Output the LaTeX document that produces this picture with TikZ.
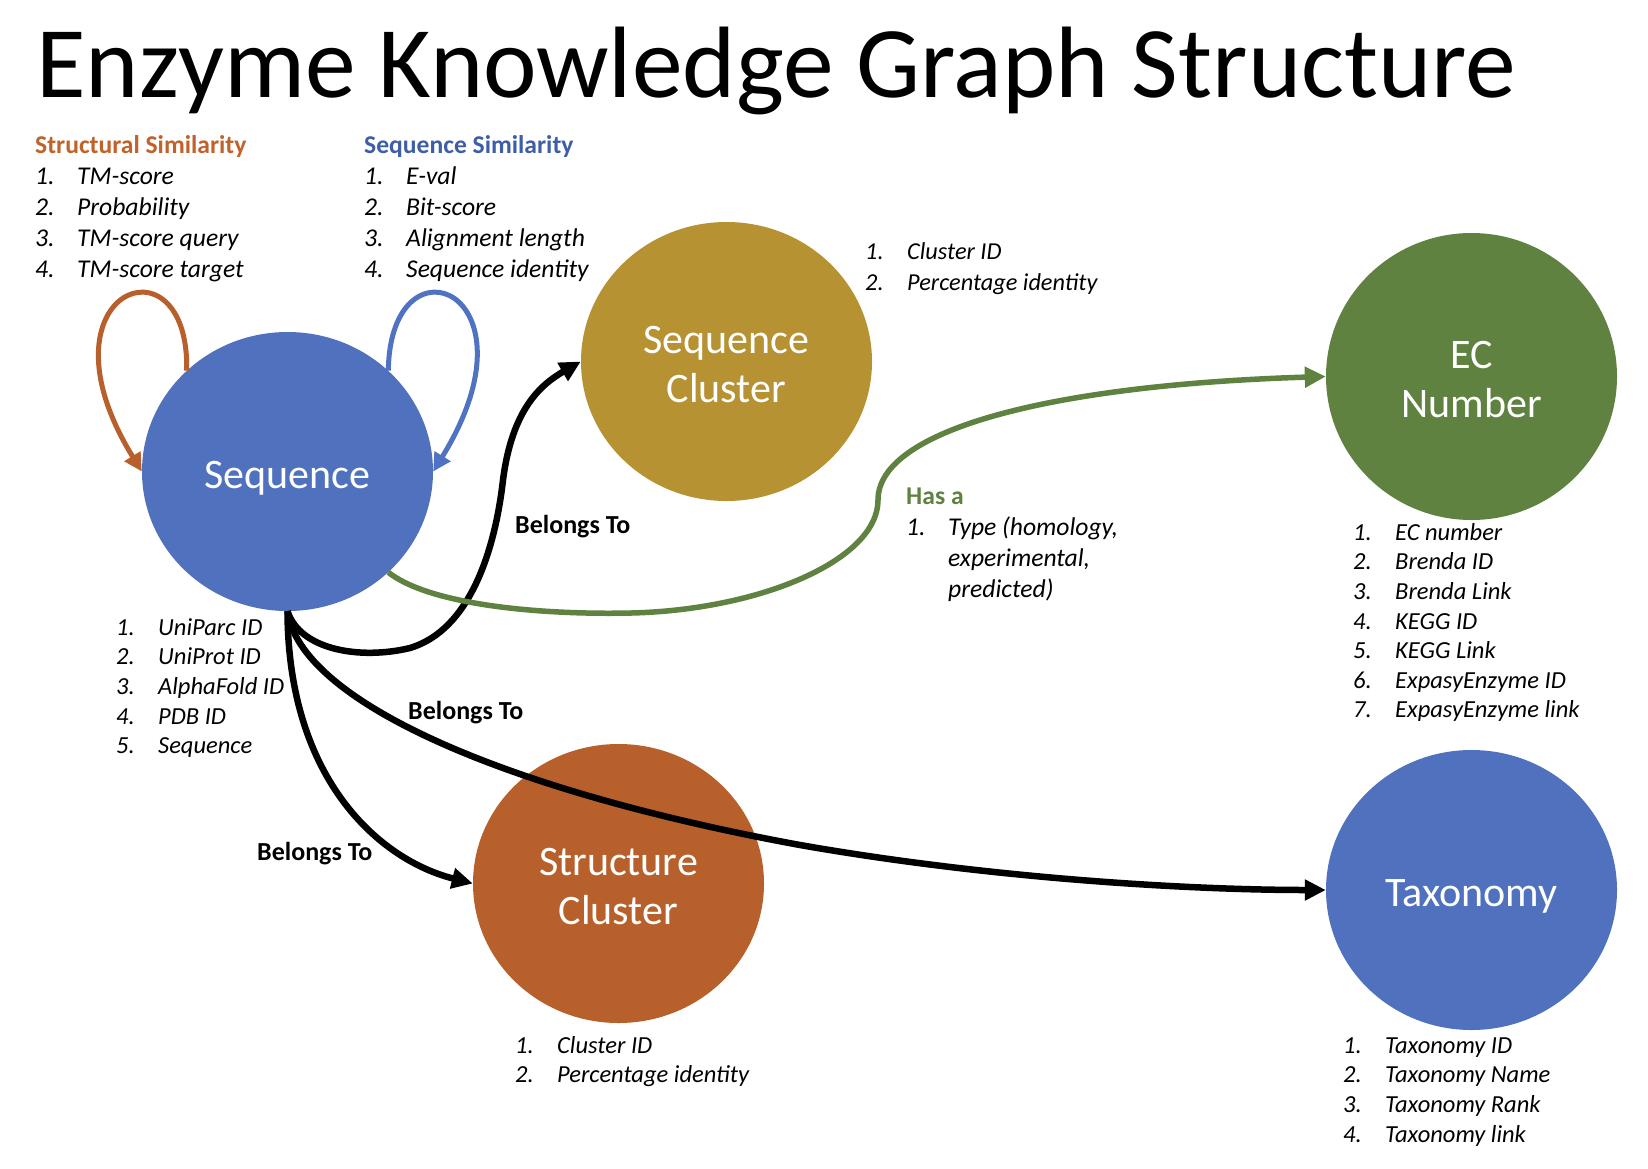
\documentclass[tikz,border=0pt]{standalone}
\usepackage{fontspec}
\setmainfont{Carlito}
\usetikzlibrary{arrows.meta, positioning, shapes.geometric}

\definecolor{seqblue}{HTML}{5071BE}
\definecolor{loopblue}{HTML}{4F72C2}
\definecolor{headblue}{HTML}{3F5EA8}
\definecolor{clustergold}{HTML}{B79233}
\definecolor{ecgreen}{HTML}{5F8240}
\definecolor{strorange}{HTML}{B8602C}
\definecolor{headorange}{HTML}{C0622A}

\newcommand{\itm}[2]{\makebox[42pt][l]{#1}#2}

\begin{document}
\begin{tikzpicture}[x=1pt, y=-1pt, every node/.style={align=center},
    entity/.style={ellipse, minimum width=291pt, minimum height=279pt, inner sep=0pt,
        text=white, font=\fontsize{42}{49}\selectfont},
    attrs/.style={anchor=north west, inner sep=0pt, align=left,
        font=\fontsize{25.6}{31}\selectfont\itshape},
    smallattrs/.style={attrs, font=\fontsize{24.5}{29.6}\selectfont\itshape},
    relation/.style={line width=6.5pt, -{Triangle[length=21pt, width=20pt]}},
    selfloop/.style={line width=5pt, -{Triangle[length=18pt, width=18pt]}},
    rellabel/.style={anchor=west, inner sep=0pt, font=\fontsize{26}{31}\selectfont\bfseries}]
    \fill[white] (0,0) rectangle (1648,1168);
    \useasboundingbox (0,0) rectangle (1648,1168);

    \node[anchor=base west, inner sep=0pt, font=\fontsize{101.5}{120}\selectfont] (title) at (36,97)
    {Enzyme Knowledge Graph Structure};

    \node[entity, fill=seqblue] (seq) at (287.5,471.5) {\rule{0pt}{40pt}Sequence};
    \node[entity, fill=clustergold] (seqcl) at (726.5,361.5) {\rule{0pt}{34pt}Sequence\\ Cluster};
    \node[entity, fill=ecgreen, minimum height=287pt] (ec) at (1471.5,376.5) {\rule{0pt}{33.5pt}EC\\ Number};
    \node[entity, fill=strorange] (strcl) at (618.5,883.5) {\rule{0pt}{34pt}Structure\\ Cluster};
    \node[entity, fill=seqblue, minimum height=280pt] (tax) at (1471.5,890) {\rule{0pt}{40pt}Taxonomy};

    % attribute lists
    \node[attrs] (strsim) at (35,131.8) {\begin{tabular}{@{}l@{}}
        {\upshape\bfseries\color{headorange}Structural Similarity}\\
        \itm{1.}{TM-score}\\ \itm{2.}{Probability}\\
        \itm{3.}{TM-score query}\\ \itm{4.}{TM-score target}
    \end{tabular}};
    \node[attrs] (seqsim) at (364,131.8) {\begin{tabular}{@{}l@{}}
        {\upshape\bfseries\color{headblue}Sequence Similarity}\\
        \itm{1.}{E-val}\\ \itm{2.}{Bit-score}\\
        \itm{3.}{Alignment length}\\ \itm{4.}{Sequence identity}
    \end{tabular}};
    \node[attrs, font=\fontsize{24.3}{30.5}\selectfont\itshape] (seqcllist) at (865,238) {\begin{tabular}{@{}l@{}}
        \itm{1.}{Cluster ID}\\ \itm{2.}{Percentage identity}
    \end{tabular}};
    \node[attrs] (hasa) at (906,482.8) {\begin{tabular}{@{}l@{}}
        {\upshape\bfseries\color{ecgreen}Has a}\\
        \itm{1.}{Type (homology,}\\ \itm{}{experimental,}\\ \itm{}{predicted)}
    \end{tabular}};
    \node[smallattrs] (eclist) at (1353,519.3) {\begin{tabular}{@{}l@{}}
        \itm{1.}{EC number}\\ \itm{2.}{Brenda ID}\\ \itm{3.}{Brenda Link}\\
        \itm{4.}{KEGG ID}\\ \itm{5.}{KEGG Link}\\ \itm{6.}{ExpasyEnzyme ID}\\
        \itm{7.}{ExpasyEnzyme link}
    \end{tabular}};
    \node[smallattrs] (taxlist) at (1343,1032.3) {\begin{tabular}{@{}l@{}}
        \itm{1.}{Taxonomy ID}\\ \itm{2.}{Taxonomy Name}\\
        \itm{3.}{Taxonomy Rank}\\ \itm{4.}{Taxonomy link}
    \end{tabular}};
    \node[smallattrs] (seqlist) at (116,614.3) {\begin{tabular}{@{}l@{}}
        \itm{1.}{UniParc ID}\\ \itm{2.}{UniProt ID}\\ \itm{3.}{AlphaFold ID}\\
        \itm{4.}{PDB ID}\\ \itm{5.}{Sequence}
    \end{tabular}};
    \node[smallattrs] (strcllist) at (515,1032.3) {\begin{tabular}{@{}l@{}}
        \itm{1.}{Cluster ID}\\ \itm{2.}{Percentage identity}
    \end{tabular}};

    % self loops
    \draw[selfloop, strorange] (seq.135) .. controls (190,230) and (30,290) .. (seq.west);
    \draw[selfloop, loopblue] (seq.45) .. controls (390,230) and (545,290) .. (seq.east);

    % relations
    \draw[relation] (seq.south) .. controls (300,650) and (360,660) .. (410,648)
    .. controls (470,630) and (495,550) .. (503,480)
    .. controls (512,410) and (540,385) .. (seqcl.west);
    \draw[relation] (seq.south) .. controls (288,780) and (380,860) .. (strcl.west);
    \draw[relation] (seq.south) .. controls (300,700) and (500,790) .. (800,845)
    .. controls (1000,880) and (1200,890) .. (tax.west);
    \draw[relation, ecgreen, line width=5.5pt] (seq.-45) .. controls (430,605) and (540,615) .. (631,613)
    .. controls (760,610) and (878,560) .. (878,500)
    .. controls (878,430) and (1050,385) .. (ec.west);

    \node[rellabel] (belongs1) at (515,527) {Belongs To};
    \node[rellabel] (belongs2) at (408,713) {Belongs To};
    \node[rellabel] (belongs3) at (257,854) {Belongs To};
\end{tikzpicture}
\end{document}
